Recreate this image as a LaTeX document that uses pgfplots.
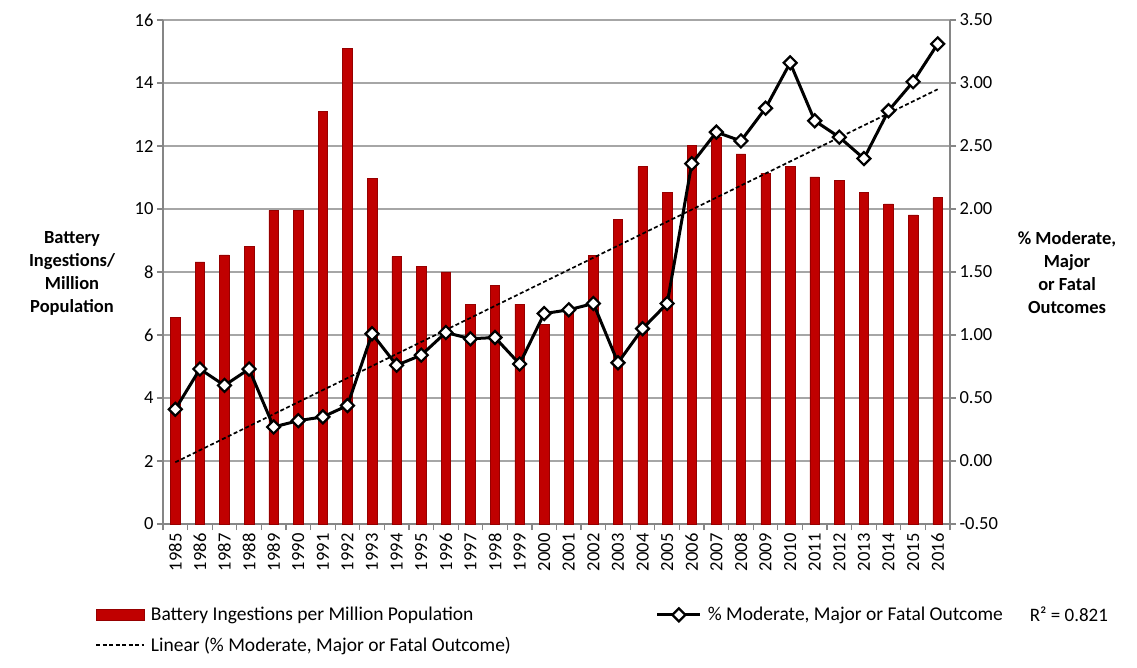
\documentclass[border=0pt]{standalone}
\usepackage{fontspec}
\setmainfont{Carlito}
\usepackage{pgfplots}
\usepackage{pgfplotstable}
\pgfplotsset{compat=1.18}

\definecolor{barred}{RGB}{192,0,0}
\definecolor{bardark}{RGB}{150,0,0}
\definecolor{gridgray}{RGB}{166,166,166}
\definecolor{axisgray}{RGB}{134,134,134}

% x = category index (1985 = 0)
\pgfplotstableread{
x  ingest pct
0  6.55  0.41
1  8.32  0.73
2  8.54  0.60
3  8.81  0.73
4  9.96  0.27
5  9.96  0.32
6  13.10 0.35
7  15.10 0.44
8  10.98 1.01
9  8.49  0.76
10 8.19  0.84
11 8.00  1.02
12 6.98  0.97
13 7.58  0.98
14 6.98  0.77
15 6.33  1.17
16 6.77  1.20
17 8.52  1.25
18 9.67  0.78
19 11.34 1.05
20 10.52 1.25
21 12.01 2.36
22 12.29 2.61
23 11.75 2.54
24 11.14 2.80
25 11.36 3.16
26 11.02 2.70
27 10.90 2.57
28 10.52 2.40
29 10.16 2.78
30 9.81  3.01
31 10.36 3.31
}\datatable

\pgfplotsset{
  /pgf/number format/assume math mode=true,
  common/.style={
    at={(163pt,143pt)}, anchor=south west,
    scale only axis, width=787pt, height=504pt,
    xmin=-0.5, xmax=31.5,
    tick align=outside,
    major tick length=6pt, minor tick length=6pt,
    tick style={draw=axisgray, line width=1.2pt},
    axis line style={draw=axisgray, line width=1.2pt, -},
    tick label style={font=\fontsize{18.5}{22}\selectfont},
    clip=false,
  },
  barleg/.style={legend image code/.code={
    \draw[fill=barred, draw=bardark, line width=0.6pt]
      (0pt,-5pt) rectangle (48pt,6pt);}},
  lineleg/.style={legend image code/.code={
    \draw[mark repeat=2, mark phase=2, ##1] plot coordinates {(0pt,0pt) (21.5pt,0pt) (43pt,0pt)};}},
  trendleg/.style={legend image code/.code={\draw[##1] (0pt,0pt) -- (48pt,0pt);}},
}

\begin{document}
\begin{tikzpicture}
\useasboundingbox (0,0) rectangle (1137pt,667pt);
\begin{axis}[
  common,
  axis x line*=bottom, axis y line*=left,
  ymin=0, ymax=16, ytick distance=2,
  ymajorgrids, major grid style={draw=gridgray, line width=1.2pt},
  xtick={0,...,31},
  xticklabels={1985,1986,1987,1988,1989,1990,1991,1992,1993,1994,1995,1996,1997,1998,1999,2000,2001,2002,2003,2004,2005,2006,2007,2008,2009,2010,2011,2012,2013,2014,2015,2016},
  xticklabel style={rotate=90, anchor=east},
  major x tick style={draw=none},
  minor xtick={-0.5,0.5,...,31.5},
]
\addplot[ybar, bar width=9.5pt, fill=barred, draw=bardark, line width=0.6pt]
  table[x=x, y=ingest] {\datatable};
\node[align=center, font=\bfseries\fontsize{18.5}{23}\selectfont]
  at (axis description cs:-0.1156,0.498) {Battery\\Ingestions/\\Million\\Population};
\node[align=center, font=\bfseries\fontsize{18.5}{23}\selectfont]
  at (axis description cs:1.1487,0.498) {\% Moderate,\\Major\\or Fatal\\Outcomes};
\node[anchor=west, font=\fontsize{19}{22}\selectfont]
  at (axis description cs:1.097,-0.1786) {R² = 0.821};
\end{axis}

\begin{axis}[
  common,
  axis x line=none, axis y line*=right,
  ymin=-0.5, ymax=3.5, ytick distance=0.5,
  yticklabel style={/pgf/number format/.cd, fixed, fixed zerofill, precision=2},
  legend columns=2,
  legend cell align=left,
  legend style={
    at={(axis description cs:-0.0864,-0.161)}, anchor=north west,
    draw=none, fill=none, inner sep=0pt,
    row sep=11pt, column sep=4pt,
    font=\fontsize{19.5}{22}\selectfont,
    /tikz/every even column/.append style={column sep=143pt},
  },
]
\addlegendimage{barleg}
\addlegendentry{Battery Ingestions per Million Population}
\addplot[black, line width=3pt, mark=square*,
  mark options={rotate=45, fill=white, draw=black, line width=2.2pt, solid}, mark size=4.6pt,
  lineleg]
  table[x=x, y=pct] {\datatable};
\addlegendentry{\% Moderate, Major or Fatal Outcome}
\addplot[black, line width=1.7pt, dash pattern=on 4pt off 2.5pt, trendleg]
  coordinates {(0,-0.01) (31,2.95)};
\addlegendentry{Linear (\% Moderate, Major or Fatal Outcome)}
\end{axis}
\end{tikzpicture}
\end{document}
